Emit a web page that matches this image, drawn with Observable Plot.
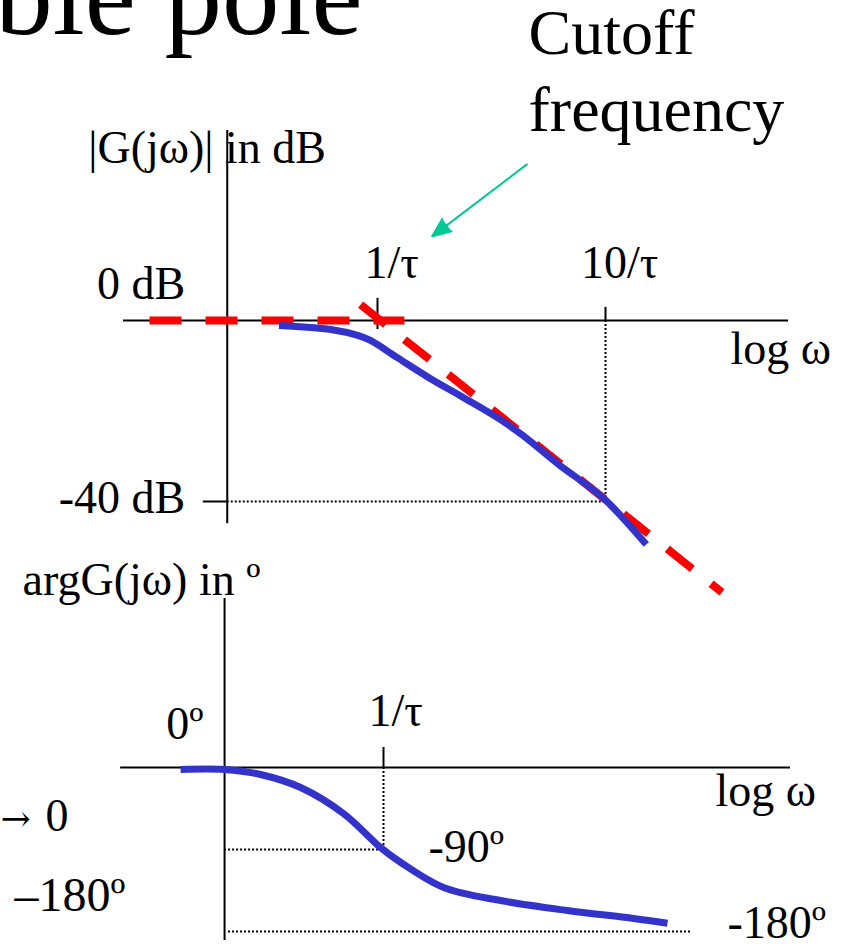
<!DOCTYPE html>
<html>
<head>
<meta charset="utf-8">
<script src="https://cdn.jsdelivr.net/npm/d3@7"></script>
<script src="https://cdn.jsdelivr.net/npm/@observablehq/plot@0.6"></script>
<style>
  html, body { margin: 0; padding: 0; background: #fff; }
  #chart { position: relative; width: 850px; height: 947px; overflow: hidden; }
  #chart svg { position: absolute; left: 0; top: 0; }
</style>
</head>
<body>
<div id="chart"></div>
<script>
// Frequency is measured in decades from the corner: log10(ωτ). 0 → 1/τ, 1 → 10/τ.

// Magnitude |G(jω)| in dB (exact curve)
const magLogW = [-0.432, -0.205, -0.087, -0.031, 0.087, 0.231, 0.376, 0.524, 0.638, 0.799, 0.987, 1.179];
const magDb   = [-1.1, -2.0, -3.3, -4.4, -8.2, -12.8, -17.0, -21.4, -25.4, -32.0, -39.1, -49.5];

// Straight-line asymptotes: flat 0 dB, then -40 dB/decade
const lowAsymLogW  = [-1.0, 0.118];
const lowAsymDb    = [0, 0];
const highAsymLogW = [-0.074, 1.511];
const highAsymDb   = [3.5, -60.1];

// Phase argG(jω) in degrees
const phaseLogW = [-0.886, -0.694, -0.537, -0.362, -0.175, -0.013, 0.074, 0.262, 0.511, 0.803, 1.092, 1.24];
const phaseDeg  = [-2.2, -2.2, -7.7, -22, -50.5, -87.8, -104, -131.7, -146, -157, -165.7, -171];

// Axis ticks and labels
const freqTicks      = [0, 1];
const freqTickLabels = ["1/τ", "10/τ"];
const dbTicks        = [0, -40];
const dbTickLabels   = ["0 dB", "-40 dB"];
const degTicks       = [0, -90, -180];
const degTickLabels  = ["0º", "-90º", "-180º"];

// Where the drawn axes sit / extend
const magAxisLogW   = -0.659;            // vertical |G| axis
const magAxisDb     = [-44.9, 42];       // its extent
const magFreqAxis   = [-1.114, 1.803];   // horizontal 0 dB axis extent
const phaseAxisLogW = -0.694;            // vertical phase axis
const phaseAxisDeg  = [-189.9, 185.5];
const phaseFreqAxis = [-1.148, 1.777];

const zip = (xs, ys) => xs.map((x, i) => ({x, y: ys[i]}));
const mag      = zip(magLogW, magDb);
const lowAsym  = zip(lowAsymLogW, lowAsymDb);
const highAsym = zip(highAsymLogW, highAsymDb);
const phase    = zip(phaseLogW, phaseDeg);

const serif = "'Liberation Serif', 'Times New Roman', Times, serif";
const blue = "#3333cc", red = "#ff0000", green = "#00c896";
const label = {fontSize: 46, fill: "black", lineAnchor: "bottom", fontFamily: serif};
const dotted = {stroke: "black", strokeWidth: 2, strokeDasharray: "2,2"};
const solid = {stroke: "black", strokeWidth: 2};
const dashed = {stroke: red, strokeWidth: 8, strokeDasharray: "32,24", strokeLinecap: "butt"};

// ---------- Magnitude panel (with slide text) ----------
const magPlot = Plot.plot({
  width: 850, height: 947, margin: 0,
  x: {domain: [0, 1], range: [377, 605], axis: null},
  y: {domain: [0, -40], range: [320, 501], axis: null},
  style: {fontFamily: serif, background: "white", overflow: "visible"},
  marks: [
    // slide heading and note
    Plot.text(["ble pole"], {frameAnchor: "top-left", dx: 362, dy: 33, text: d => d,
      textAnchor: "end", lineAnchor: "bottom", fontSize: 115, fill: "black", fontFamily: serif}),
    Plot.text(["Cutoff"], {frameAnchor: "top-left", dx: 528, dy: 53, text: d => d,
      textAnchor: "start", lineAnchor: "bottom", fontSize: 64, fill: "black", fontFamily: serif}),
    Plot.text(["frequency"], {frameAnchor: "top-left", dx: 528, dy: 130, text: d => d,
      textAnchor: "start", lineAnchor: "bottom", fontSize: 64, fill: "black", fontFamily: serif}),
    Plot.text(["→"], {frameAnchor: "top-left", dx: 0, dy: 830, text: d => d,
      textAnchor: "start", ...label, fontSize: 36, fontFamily: "'DejaVu Serif', serif"}),
    Plot.text(["0"], {frameAnchor: "top-left", dx: 68, dy: 830, text: d => d,
      textAnchor: "end", ...label}),
    Plot.text(["–180º"], {frameAnchor: "top-left", dx: 125, dy: 910, text: d => d,
      textAnchor: "end", ...label, fontSize: 48}),

    // axes
    Plot.ruleY([0], {x1: magFreqAxis[0], x2: magFreqAxis[1], ...solid}),
    Plot.ruleX([magAxisLogW], {y1: magAxisDb[0], y2: magAxisDb[1], ...solid}),

    // guides to 10/τ and -40 dB
    Plot.ruleX([freqTicks[1]], {y1: 0, y2: dbTicks[1], ...dotted}),
    Plot.ruleY([dbTicks[1]], {x1: magAxisLogW, x2: freqTicks[1], ...dotted}),

    // tick marks
    Plot.ruleX([freqTicks[0]], {y1: -2, y2: 4.9, ...solid}),
    Plot.ruleX([freqTicks[1]], {y1: 0, y2: 2.9, ...solid}),
    Plot.ruleY([dbTicks[1]], {x1: -0.764, x2: magAxisLogW, ...solid}),

    // tick labels
    Plot.text(freqTicks, {x: d => d, y: 0, text: (d, i) => freqTickLabels[i],
      textAnchor: "middle", dx: 14, dy: -43, ...label}),
    Plot.text([dbTicks[0]], {x: magAxisLogW, y: d => d, text: [dbTickLabels[0]],
      textAnchor: "end", dx: -42, dy: -22, ...label}),
    Plot.text([dbTicks[1]], {x: magAxisLogW, y: d => d, text: [dbTickLabels[1]],
      textAnchor: "end", dx: -42, dy: 11, ...label}),
    Plot.text(["|G(jω)| in dB"], {x: magAxisLogW, y: magAxisDb[1], text: d => d,
      textAnchor: "start", dx: -139, dy: 33, ...label}),
    Plot.text(["log ω"], {x: magFreqAxis[1], y: 0, text: d => d,
      textAnchor: "start", dx: -58, dy: 43, ...label}),

    // asymptotes and exact response
    Plot.line(lowAsym, {x: "x", y: "y", ...dashed}),
    Plot.line(highAsym, {x: "x", y: "y", ...dashed}),
    Plot.line(mag, {x: "x", y: "y", stroke: blue, strokeWidth: 7, curve: "catmull-rom", strokeLinecap: "butt"}),

    // pointer to the cutoff frequency
    Plot.arrow([0], {x1: 0.655, y1: 34.5, x2: 0.24, y2: 18.6, stroke: green, fill: green,
      strokeWidth: 2, headLength: 15, headAngle: 45})
  ]
});

// ---------- Phase panel ----------
const phasePlot = Plot.plot({
  width: 850, height: 947, margin: 0,
  x: {domain: [0, 1], range: [383, 612], axis: null},
  y: {domain: [0, -180], range: [767, 931], axis: null},
  style: {fontFamily: serif, background: "transparent", overflow: "visible", pointerEvents: "none"},
  marks: [
    Plot.ruleY([0], {x1: phaseFreqAxis[0], x2: phaseFreqAxis[1], ...solid}),
    Plot.ruleX([phaseAxisLogW], {y1: phaseAxisDeg[0], y2: phaseAxisDeg[1], ...solid}),

    // guides
    Plot.ruleX([freqTicks[0]], {y1: 0, y2: degTicks[1], ...dotted}),
    Plot.ruleY([degTicks[1]], {x1: phaseAxisLogW, x2: freqTicks[0], ...dotted}),
    Plot.ruleY([degTicks[2]], {x1: -0.677, x2: 1.349, ...dotted}),

    // tick at 1/τ
    Plot.ruleX([freqTicks[0]], {y1: 0, y2: 22, ...solid}),

    // labels
    Plot.text(["argG(jω) in º"], {x: phaseAxisLogW, y: phaseAxisDeg[1], text: d => d,
      textAnchor: "start", dx: -202, dy: -3, ...label}),
    Plot.text([freqTicks[0]], {x: d => d, y: 0, text: [freqTickLabels[0]],
      textAnchor: "middle", dx: 12, dy: -42, ...label}),
    Plot.text([degTicks[0]], {x: phaseAxisLogW, y: d => d, text: [degTickLabels[0]],
      textAnchor: "end", dx: -21, dy: -29, ...label}),
    Plot.text([degTicks[1]], {x: freqTicks[0], y: d => d, text: [degTickLabels[1]],
      textAnchor: "start", dx: 45, dy: 12, ...label}),
    Plot.text([degTicks[2]], {x: 1.349, y: d => d, text: [degTickLabels[2]],
      textAnchor: "start", dx: 35, dy: 6, ...label}),
    Plot.text(["log ω"], {x: phaseFreqAxis[1], y: 0, text: d => d,
      textAnchor: "start", dx: -75, dy: 38, ...label}),

    Plot.line(phase, {x: "x", y: "y", stroke: blue, strokeWidth: 7, curve: "catmull-rom", strokeLinecap: "butt"})
  ]
});

const chart = document.getElementById("chart");
chart.appendChild(magPlot);
chart.appendChild(phasePlot);
</script>
</body>
</html>
